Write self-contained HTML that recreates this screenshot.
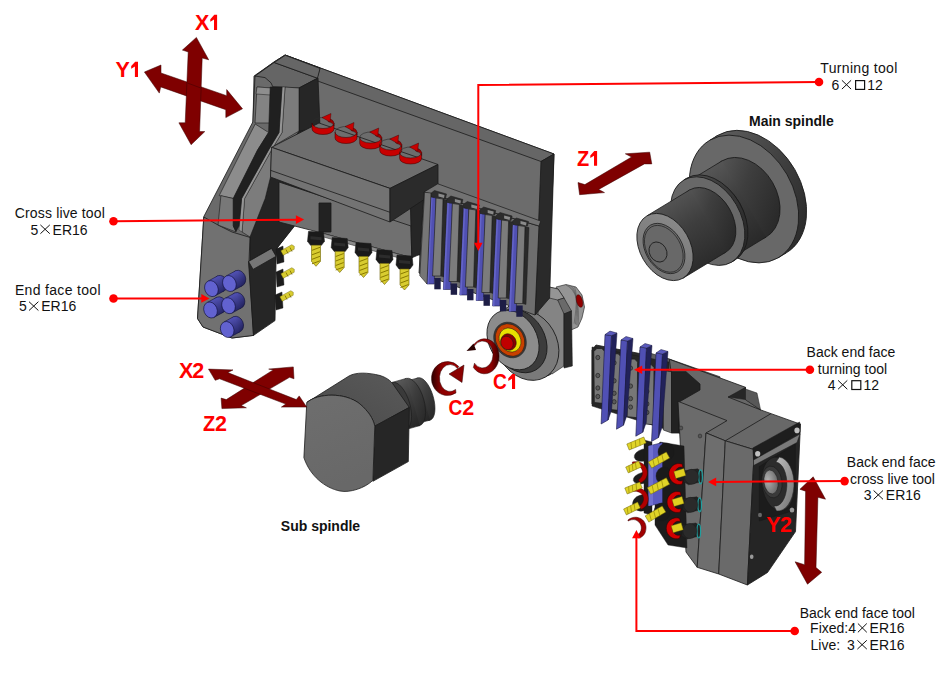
<!DOCTYPE html>
<html><head><meta charset="utf-8">
<style>
html,body{margin:0;padding:0;background:#fff;width:941px;height:685px;overflow:hidden}
svg{display:block}
text{font-family:"Liberation Sans",sans-serif}
.lb{font-size:14px;fill:#111}
.bd{font-size:14px;font-weight:bold;fill:#111}
.ax{font-size:21.5px;font-weight:bold;fill:#f00}
.ld{stroke:#f00;stroke-width:2;fill:none}
</style></head><body>
<svg width="941" height="685" viewBox="0 0 941 685">
<defs><linearGradient id="gb" x1="0.2" y1="0" x2="0.8" y2="1"><stop offset="0" stop-color="#5c5c5c"/><stop offset="0.45" stop-color="#3e3e3e"/><stop offset="1" stop-color="#262626"/></linearGradient><linearGradient id="gr" x1="0.4" y1="0" x2="0.9" y2="0.9"><stop offset="0" stop-color="#606060"/><stop offset="0.5" stop-color="#444"/><stop offset="1" stop-color="#2a2a2a"/></linearGradient><linearGradient id="gf" x1="0" y1="1" x2="1" y2="0"><stop offset="0" stop-color="#707070"/><stop offset="1" stop-color="#8c8c8c"/></linearGradient></defs>
<ellipse cx="751.9" cy="194.2" rx="49.5" ry="68.0" transform="rotate(-30 751.9 194.2)" fill="url(#gr)" stroke="#1a1a1a" stroke-width="0.8" />
<polygon points="778.0,257.9 785.9,253.1 717.9,135.3 710.0,140.1" fill="url(#gr)" stroke="none"/>
<line x1="778.0" y1="257.9" x2="785.9" y2="253.1" stroke="#1a1a1a" stroke-width="0.8"/>
<line x1="717.9" y1="135.3" x2="710.0" y2="140.1" stroke="#1a1a1a" stroke-width="0.8"/>
<ellipse cx="744.0" cy="199.0" rx="49.5" ry="68.0" transform="rotate(-30 744.0 199.0)" fill="#686868" stroke="#1a1a1a" stroke-width="0.8" />
<ellipse cx="744.0" cy="199.0" rx="33.0" ry="44.0" transform="rotate(-30 744.0 199.0)" fill="url(#gb)" stroke="#1a1a1a" stroke-width="0.8" />
<polygon points="732.8,257.3 766.0,237.1 722.0,160.9 688.8,181.1" fill="url(#gb)" stroke="none"/>
<line x1="732.8" y1="257.3" x2="766.0" y2="237.1" stroke="#1a1a1a" stroke-width="0.8"/>
<line x1="722.0" y1="160.9" x2="688.8" y2="181.1" stroke="#1a1a1a" stroke-width="0.8"/>
<ellipse cx="710.8" cy="219.2" rx="33.0" ry="44.0" transform="rotate(-30 710.8 219.2)" fill="#303030" stroke="#1a1a1a" stroke-width="0.8" />
<ellipse cx="710.8" cy="219.2" rx="33.0" ry="47.5" transform="rotate(-30 710.8 219.2)" fill="url(#gb)" stroke="#1a1a1a" stroke-width="0.8" />
<polygon points="731.4,262.2 734.6,260.3 687.1,178.0 683.9,179.9" fill="url(#gb)" stroke="none"/>
<line x1="731.4" y1="262.2" x2="734.6" y2="260.3" stroke="#1a1a1a" stroke-width="0.8"/>
<line x1="687.1" y1="178.0" x2="683.9" y2="179.9" stroke="#1a1a1a" stroke-width="0.8"/>
<ellipse cx="707.7" cy="221.1" rx="33.0" ry="47.5" transform="rotate(-30 707.7 221.1)" fill="#686868" stroke="#1a1a1a" stroke-width="0.8" />
<ellipse cx="707.7" cy="221.1" rx="25.0" ry="36.0" transform="rotate(-30 707.7 221.1)" fill="url(#gb)" stroke="#1a1a1a" stroke-width="0.8" />
<polygon points="683.0,278.2 725.7,252.3 689.7,189.9 647.0,215.8" fill="url(#gb)" stroke="none"/>
<line x1="683.0" y1="278.2" x2="725.7" y2="252.3" stroke="#1a1a1a" stroke-width="0.8"/>
<line x1="689.7" y1="189.9" x2="647.0" y2="215.8" stroke="#1a1a1a" stroke-width="0.8"/>
<ellipse cx="665.0" cy="247.0" rx="25.0" ry="36.0" transform="rotate(-30 665.0 247.0)" fill="url(#gf)" stroke="#1a1a1a" stroke-width="0.8" />
<ellipse cx="664.0" cy="248.5" rx="18.5" ry="27.0" transform="rotate(-30 664.0 248.5)" fill="#6a6a6a" stroke="#1a1a1a" stroke-width="0.7" />
<ellipse cx="663.8" cy="248.8" rx="17.0" ry="25.2" transform="rotate(-30 663.8 248.8)" fill="#686868" stroke="#1a1a1a" stroke-width="0.6" />
<ellipse cx="658.0" cy="252.0" rx="8.5" ry="10.5" transform="rotate(-30 658.0 252.0)" fill="#656565" stroke="#1a1a1a" stroke-width="0.8" />
<polygon points="556.0,287.0 566.0,284.5 576.0,287.0 582.0,295.0 584.5,307.0 582.0,318.0 578.0,327.0 571.0,330.0 566.0,320.0" fill="#959595" stroke="#1a1a1a" stroke-width="0.6" stroke-linejoin="round" />
<path d="M566.0,285.0 Q581.0,292.0 578.0,326.0" fill="none" stroke="#555" stroke-width="0.6"/>
<path d="M568.6,285.5 Q580.2,292.0 576.7,325.2" fill="none" stroke="#555" stroke-width="0.6"/>
<path d="M571.2,286.0 Q579.4,292.0 575.4,324.4" fill="none" stroke="#555" stroke-width="0.6"/>
<path d="M573.8,286.6 Q578.7,292.0 574.1,323.7" fill="none" stroke="#555" stroke-width="0.6"/>
<ellipse cx="579.5" cy="301.0" rx="3.0" ry="6.5" transform="rotate(-15 579.5 301.0)" fill="#900000" stroke="#300" stroke-width="0.4" />
<ellipse cx="530.0" cy="340.0" rx="32.0" ry="40.0" transform="rotate(-30 530.0 340.0)" fill="#7a7a7a" stroke="#1a1a1a" stroke-width="0.8" />
<polygon points="538.0,292.0 547.0,286.5 558.0,289.0 564.0,298.0 564.0,366.0 552.0,374.0 538.0,368.0" fill="#848484" stroke="#1a1a1a" stroke-width="0.6" stroke-linejoin="round" />
<polygon points="538.0,292.0 547.0,286.5 558.0,289.0 564.0,298.0 557.7,300.0 545.0,297.0" fill="#959595" stroke="#1a1a1a" stroke-width="0.6" stroke-linejoin="round" />
<polygon points="557.7,300.0 564.0,298.0 571.5,311.0 564.0,314.0" fill="#6a6a6a" stroke="#1a1a1a" stroke-width="0.6" stroke-linejoin="round" />
<polygon points="564.0,314.0 571.5,311.0 572.3,366.0 564.0,368.0" fill="#2a2a2a" stroke="#1a1a1a" stroke-width="0.6" stroke-linejoin="round" />
<ellipse cx="527.0" cy="345.0" rx="30.0" ry="37.0" transform="rotate(-30 527.0 345.0)" fill="#7a7a7a" stroke="#1a1a1a" stroke-width="0.8" />
<ellipse cx="519.0" cy="341.0" rx="26.0" ry="33.5" transform="rotate(-30 519.0 341.0)" fill="#3c3c3c" stroke="#1a1a1a" stroke-width="0.8" />
<ellipse cx="513.0" cy="340.0" rx="24.0" ry="31.5" transform="rotate(-30 513.0 340.0)" fill="#8c8c8c" stroke="#1a1a1a" stroke-width="0.8" />
<ellipse cx="510.0" cy="340.0" rx="15.5" ry="18.5" transform="rotate(-30 510.0 340.0)" fill="#3a3a3a" stroke="#1a1a1a" stroke-width="0.5" />
<ellipse cx="510.0" cy="340.0" rx="14.0" ry="17.0" transform="rotate(-30 510.0 340.0)" fill="#c84000" stroke="#1a1a1a" stroke-width="0.5" />
<ellipse cx="510.0" cy="340.0" rx="10.5" ry="12.5" transform="rotate(-30 510.0 340.0)" fill="#e8e000" stroke="#1a1a1a" stroke-width="0.5" />
<ellipse cx="508.5" cy="342.0" rx="7.5" ry="8.5" transform="rotate(-30 508.5 342.0)" fill="#8a0000" stroke="#1a1a1a" stroke-width="0.5" />
<ellipse cx="507.0" cy="343.0" rx="6.0" ry="7.0" transform="rotate(-30 507.0 343.0)" fill="#c00000" stroke="#1a1a1a" stroke-width="0.5" />
<polygon points="254.0,76.0 274.0,62.0 285.0,55.0 554.0,154.0 548.0,292.0 535.0,310.0 420.0,272.0 420.0,255.0 300.0,225.0 253.0,123.0" fill="#6c6c6c" stroke="#1a1a1a" stroke-width="0.8" stroke-linejoin="round" />
<polygon points="285.0,55.0 554.0,154.0 541.0,161.5 276.0,66.0" fill="#666666" stroke="#1a1a1a" stroke-width="0.8" stroke-linejoin="round" />
<polygon points="541.0,161.5 554.0,154.0 549.6,298.0 535.0,315.0" fill="#2a2a2a" stroke="#1a1a1a" stroke-width="0.8" stroke-linejoin="round" />
<polygon points="255.0,76.0 274.0,62.0 285.0,55.0 320.0,68.0 317.0,78.0 300.0,88.0 305.0,128.0 294.0,226.0 277.0,248.0 276.0,256.0 250.0,261.0 253.5,335.4 232.0,338.0 203.0,327.0 197.5,318.5 203.8,216.6 252.8,122.0" fill="#6a6a6a" stroke="#1a1a1a" stroke-width="0.8" stroke-linejoin="round" />
<polygon points="255.0,76.0 265.0,77.6 271.0,82.8 272.8,86.8 299.0,88.0 317.5,78.2 274.2,62.5" fill="#656565" stroke="#1a1a1a" stroke-width="0.8" stroke-linejoin="round" />
<polygon points="274.2,62.5 285.3,55.3 320.0,68.4 317.5,78.2" fill="#666666" stroke="#1a1a1a" stroke-width="0.8" stroke-linejoin="round" />
<polygon points="257.0,87.0 272.0,88.0 270.0,123.0 255.0,123.0" fill="#838383" stroke="#1a1a1a" stroke-width="0.6" stroke-linejoin="round" />
<polygon points="257.0,87.0 272.0,88.0 270.5,95.0 256.0,94.0" fill="#8e8e8e" stroke="#1a1a1a" stroke-width="0.5" stroke-linejoin="round" />
<polygon points="299.0,131.0 320.0,128.0 310.0,200.0 294.1,226.6 277.3,247.8 276.0,256.0 250.0,261.0 250.0,228.0 265.2,198.5 270.5,177.0" fill="#242424" stroke="#1a1a1a" stroke-width="0.8" stroke-linejoin="round" />
<polygon points="299.0,88.0 318.0,78.0 320.0,128.0 299.0,131.0" fill="#262626" stroke="#1a1a1a" stroke-width="0.8" stroke-linejoin="round" />
<polygon points="203.8,217.0 218.0,225.0 232.0,232.0 250.0,237.4 249.0,261.3 253.5,335.4 232.0,338.0 203.0,327.0 197.5,318.5" fill="#717171" stroke="#1a1a1a" stroke-width="0.8" stroke-linejoin="round" />
<polygon points="255.2,124.0 268.6,132.5 257.6,150.0 233.3,198.5 219.2,195.6 242.0,150.0" fill="#8c8c8c" stroke="#1a1a1a" stroke-width="0.6" stroke-linejoin="round" />
<polygon points="220.9,195.6 233.3,198.5 233.3,226.0 236.0,232.0 218.0,225.0" fill="#787878" stroke="#1a1a1a" stroke-width="0.6" stroke-linejoin="round" />
<polygon points="285.0,87.0 299.0,88.0 299.0,131.0 271.5,147.3 270.5,177.0 265.2,198.5 250.0,237.0 242.0,232.0 244.6,198.5 271.5,150.0 282.0,132.5" fill="#7c7c7c" stroke="#1a1a1a" stroke-width="0.6" stroke-linejoin="round" />
<polygon points="282.0,87.0 285.0,87.0 282.0,132.5 271.5,150.0 244.6,198.5 242.0,232.0 239.0,230.0 241.6,198.5 268.5,150.0 279.0,132.5" fill="#959595" stroke="#1a1a1a" stroke-width="0.4" stroke-linejoin="round" />
<polygon points="270.2,87.0 282.0,87.0 279.0,132.5 268.5,150.0 241.6,198.5 239.0,226.0 236.0,231.5 233.3,226.0 233.3,198.5 257.6,150.0 268.6,132.5" fill="#202020" stroke="#1a1a1a" stroke-width="0.6" stroke-linejoin="round" />
<polygon points="248.5,261.5 271.5,248.4 276.1,256.3 275.0,320.6 253.5,335.4" fill="#262626" stroke="#1a1a1a" stroke-width="0.8" stroke-linejoin="round" />
<polygon points="248.5,261.5 271.5,248.4 276.1,256.3 253.1,269.4" fill="#767676" stroke="#1a1a1a" stroke-width="0.8" stroke-linejoin="round" />
<polygon points="279.0,182.0 411.0,226.0 411.8,257.8 318.0,232.0 279.0,222.0" fill="#707070" stroke="#1a1a1a" stroke-width="0.8" stroke-linejoin="round" />
<polygon points="410.0,190.0 424.0,184.0 422.0,253.4 411.8,257.8" fill="#262626" stroke="#1a1a1a" stroke-width="0.8" stroke-linejoin="round" />
<polygon points="318.0,232.0 411.8,257.8 411.8,261.5 318.0,235.5" fill="#8c8c8c" stroke="#1a1a1a" stroke-width="0.5" stroke-linejoin="round" />
<polygon points="271.5,147.3 319.0,123.0 438.0,164.5 390.0,188.4" fill="#6e6e6e" stroke="#1a1a1a" stroke-width="0.8" stroke-linejoin="round" />
<polygon points="271.5,147.3 390.0,188.4 390.0,222.0 270.5,177.0" fill="#737373" stroke="#1a1a1a" stroke-width="0.8" stroke-linejoin="round" />
<line x1="270.5" y1="170.3" x2="390" y2="212.3" stroke="#1a1a1a" stroke-width="0.8"/>
<polygon points="390.0,188.4 438.0,164.5 438.0,190.3 390.0,222.0" fill="#2b2b2b" stroke="#1a1a1a" stroke-width="0.8" stroke-linejoin="round" />
<polygon points="319.0,203.0 331.0,203.0 331.0,232.0 319.0,232.0" fill="#222" stroke="#1a1a1a" stroke-width="0.8" stroke-linejoin="round" />
<path d="M312,123 A11,5.5 0 0 0 334,123 L334,129 A11,5.5 0 0 1 312,129 Z" fill="#c80000" stroke="#300" stroke-width="0.5"/>
<path d="M312,123 A11,5.5 0 0 1 325,117.6" fill="none" stroke="#2a2a2a" stroke-width="0.6"/>
<path d="M334,126 L334,123 A11,5.5 0 0 0 328,118.2 L328,121.5 A11,5.5 0 0 1 334,126 Z" fill="#a00000" stroke="#300" stroke-width="0.4"/>
<polygon points="331,113.5 322,117.5 330,122" fill="#c80000" stroke="#300" stroke-width="0.4"/>
<path d="M335,132 A11,5.5 0 0 0 357,132 L357,138 A11,5.5 0 0 1 335,138 Z" fill="#c80000" stroke="#300" stroke-width="0.5"/>
<path d="M335,132 A11,5.5 0 0 1 348,126.6" fill="none" stroke="#2a2a2a" stroke-width="0.6"/>
<path d="M357,135 L357,132 A11,5.5 0 0 0 351,127.2 L351,130.5 A11,5.5 0 0 1 357,135 Z" fill="#a00000" stroke="#300" stroke-width="0.4"/>
<polygon points="354,122.5 345,126.5 353,131" fill="#c80000" stroke="#300" stroke-width="0.4"/>
<path d="M359.7,137.5 A11,5.5 0 0 0 381.7,137.5 L381.7,143.5 A11,5.5 0 0 1 359.7,143.5 Z" fill="#c80000" stroke="#300" stroke-width="0.5"/>
<path d="M359.7,137.5 A11,5.5 0 0 1 372.7,132.1" fill="none" stroke="#2a2a2a" stroke-width="0.6"/>
<path d="M381.7,140.5 L381.7,137.5 A11,5.5 0 0 0 375.7,132.7 L375.7,136.0 A11,5.5 0 0 1 381.7,140.5 Z" fill="#a00000" stroke="#300" stroke-width="0.4"/>
<polygon points="378.7,128.0 369.7,132.0 377.7,136.5" fill="#c80000" stroke="#300" stroke-width="0.4"/>
<path d="M379.7,144.5 A11,5.5 0 0 0 401.7,144.5 L401.7,150.5 A11,5.5 0 0 1 379.7,150.5 Z" fill="#c80000" stroke="#300" stroke-width="0.5"/>
<path d="M379.7,144.5 A11,5.5 0 0 1 392.7,139.1" fill="none" stroke="#2a2a2a" stroke-width="0.6"/>
<path d="M401.7,147.5 L401.7,144.5 A11,5.5 0 0 0 395.7,139.7 L395.7,143.0 A11,5.5 0 0 1 401.7,147.5 Z" fill="#a00000" stroke="#300" stroke-width="0.4"/>
<polygon points="398.7,135.0 389.7,139.0 397.7,143.5" fill="#c80000" stroke="#300" stroke-width="0.4"/>
<path d="M399.6,152.5 A11,5.5 0 0 0 421.6,152.5 L421.6,158.5 A11,5.5 0 0 1 399.6,158.5 Z" fill="#c80000" stroke="#300" stroke-width="0.5"/>
<path d="M399.6,152.5 A11,5.5 0 0 1 412.6,147.1" fill="none" stroke="#2a2a2a" stroke-width="0.6"/>
<path d="M421.6,155.5 L421.6,152.5 A11,5.5 0 0 0 415.6,147.7 L415.6,151.0 A11,5.5 0 0 1 421.6,155.5 Z" fill="#a00000" stroke="#300" stroke-width="0.4"/>
<polygon points="418.6,143.0 409.6,147.0 417.6,151.5" fill="#c80000" stroke="#300" stroke-width="0.4"/>
<polygon points="308.5,231.3 323.5,232.3 324.5,241.3 321.5,245.3 310.5,245.3 307.5,241.3" fill="#1a1a1a" stroke="#1a1a1a" stroke-width="0.5" stroke-linejoin="round" />
<polygon points="310.5,236.3 321.5,237.3 321.5,240.3 310.5,239.3" fill="#2c2c2c" stroke="none" stroke-width="0.8" stroke-linejoin="round" />
<path d="M311.5,245.3 L320.5,245.3 L320.5,261.3 L316.0,266.3 L311.5,261.3 Z" fill="#d8cc30" stroke="#6b6000" stroke-width="0.6"/>
<line x1="312.0" y1="250.3" x2="320.0" y2="247.3" stroke="#8a7a00" stroke-width="1"/>
<line x1="312.0" y1="254.8" x2="320.0" y2="251.8" stroke="#8a7a00" stroke-width="1"/>
<line x1="312.0" y1="259.3" x2="320.0" y2="256.3" stroke="#8a7a00" stroke-width="1"/>
<line x1="312.0" y1="263.8" x2="320.0" y2="260.8" stroke="#8a7a00" stroke-width="1"/>
<polygon points="332.2,237.5 347.2,238.5 348.2,247.5 345.2,251.5 334.2,251.5 331.2,247.5" fill="#1a1a1a" stroke="#1a1a1a" stroke-width="0.5" stroke-linejoin="round" />
<polygon points="334.2,242.5 345.2,243.5 345.2,246.5 334.2,245.5" fill="#2c2c2c" stroke="none" stroke-width="0.8" stroke-linejoin="round" />
<path d="M335.2,251.5 L344.2,251.5 L344.2,267.5 L339.7,272.5 L335.2,267.5 Z" fill="#d8cc30" stroke="#6b6000" stroke-width="0.6"/>
<line x1="335.7" y1="256.5" x2="343.7" y2="253.5" stroke="#8a7a00" stroke-width="1"/>
<line x1="335.7" y1="261.0" x2="343.7" y2="258.0" stroke="#8a7a00" stroke-width="1"/>
<line x1="335.7" y1="265.5" x2="343.7" y2="262.5" stroke="#8a7a00" stroke-width="1"/>
<line x1="335.7" y1="270.0" x2="343.7" y2="267.0" stroke="#8a7a00" stroke-width="1"/>
<polygon points="356.0,242.5 371.0,243.5 372.0,252.5 369.0,256.5 358.0,256.5 355.0,252.5" fill="#1a1a1a" stroke="#1a1a1a" stroke-width="0.5" stroke-linejoin="round" />
<polygon points="358.0,247.5 369.0,248.5 369.0,251.5 358.0,250.5" fill="#2c2c2c" stroke="none" stroke-width="0.8" stroke-linejoin="round" />
<path d="M359,256.5 L368,256.5 L368,272.5 L363.5,277.5 L359,272.5 Z" fill="#d8cc30" stroke="#6b6000" stroke-width="0.6"/>
<line x1="359.5" y1="261.5" x2="367.5" y2="258.5" stroke="#8a7a00" stroke-width="1"/>
<line x1="359.5" y1="266.0" x2="367.5" y2="263.0" stroke="#8a7a00" stroke-width="1"/>
<line x1="359.5" y1="270.5" x2="367.5" y2="267.5" stroke="#8a7a00" stroke-width="1"/>
<line x1="359.5" y1="275.0" x2="367.5" y2="272.0" stroke="#8a7a00" stroke-width="1"/>
<polygon points="377.0,249.5 392.0,250.5 393.0,259.5 390.0,263.5 379.0,263.5 376.0,259.5" fill="#1a1a1a" stroke="#1a1a1a" stroke-width="0.5" stroke-linejoin="round" />
<polygon points="379.0,254.5 390.0,255.5 390.0,258.5 379.0,257.5" fill="#2c2c2c" stroke="none" stroke-width="0.8" stroke-linejoin="round" />
<path d="M380,263.5 L389,263.5 L389,279.5 L384.5,284.5 L380,279.5 Z" fill="#d8cc30" stroke="#6b6000" stroke-width="0.6"/>
<line x1="380.5" y1="268.5" x2="388.5" y2="265.5" stroke="#8a7a00" stroke-width="1"/>
<line x1="380.5" y1="273.0" x2="388.5" y2="270.0" stroke="#8a7a00" stroke-width="1"/>
<line x1="380.5" y1="277.5" x2="388.5" y2="274.5" stroke="#8a7a00" stroke-width="1"/>
<line x1="380.5" y1="282.0" x2="388.5" y2="279.0" stroke="#8a7a00" stroke-width="1"/>
<polygon points="397.0,255.0 412.0,256.0 413.0,265.0 410.0,269.0 399.0,269.0 396.0,265.0" fill="#1a1a1a" stroke="#1a1a1a" stroke-width="0.5" stroke-linejoin="round" />
<polygon points="399.0,260.0 410.0,261.0 410.0,264.0 399.0,263.0" fill="#2c2c2c" stroke="none" stroke-width="0.8" stroke-linejoin="round" />
<path d="M400,269 L409,269 L409,285 L404.5,290 L400,285 Z" fill="#d8cc30" stroke="#6b6000" stroke-width="0.6"/>
<line x1="400.5" y1="274.0" x2="408.5" y2="271.0" stroke="#8a7a00" stroke-width="1"/>
<line x1="400.5" y1="278.5" x2="408.5" y2="275.5" stroke="#8a7a00" stroke-width="1"/>
<line x1="400.5" y1="283.0" x2="408.5" y2="280.0" stroke="#8a7a00" stroke-width="1"/>
<line x1="400.5" y1="287.5" x2="408.5" y2="284.5" stroke="#8a7a00" stroke-width="1"/>
<polygon points="424.0,192.0 539.0,226.0 535.0,315.0 419.0,273.0" fill="#6e6e6e" stroke="#1a1a1a" stroke-width="0.8" stroke-linejoin="round" />
<polygon points="424.0,192.0 437.8,183.8 540.7,221.1 539.0,226.0" fill="#727272" stroke="#1a1a1a" stroke-width="0.7" stroke-linejoin="round" />
<polygon points="443.0,199.0 447.0,200.0 444.0,277.0 440.5,276.0" fill="#2a2a2a" stroke="#1a1a1a" stroke-width="0.4" stroke-linejoin="round" />
<polygon points="431.0,197.0 436.0,198.0 434.3,284.0 427.0,284.0" fill="#5050b2" stroke="#20204a" stroke-width="0.6" stroke-linejoin="round" />
<polygon points="431.0,197.0 432.5,197.5 428.8,284.0 427.0,284.0" fill="#6464c8" stroke="none" stroke-width="0" stroke-linejoin="round" />
<polygon points="436.0,198.0 443.0,199.0 440.7,276.0 432.6,276.0" fill="#7c7c7c" stroke="#1a1a1a" stroke-width="0.6" stroke-linejoin="round" />
<polygon points="430.5,193.5 434.5,190.5 446.5,194.0 445.5,198.5 431.0,197.0" fill="#2c2c2c" stroke="#1a1a1a" stroke-width="0.5" stroke-linejoin="round" />
<polygon points="438.5,193.5 444.5,195.0 444.0,198.0 438.5,196.5" fill="#8a8a8a" stroke="none" stroke-width="0.8" stroke-linejoin="round" />
<polygon points="434.3,278.0 440.7,278.0 440.7,289.3 434.3,289.3" fill="#1d1d45" stroke="none" stroke-width="0.8" stroke-linejoin="round" />
<polygon points="459.4,204.5 463.4,205.5 460.4,282.5 456.9,281.5" fill="#2a2a2a" stroke="#1a1a1a" stroke-width="0.4" stroke-linejoin="round" />
<polygon points="447.4,202.5 452.4,203.5 450.7,289.5 443.4,289.5" fill="#5050b2" stroke="#20204a" stroke-width="0.6" stroke-linejoin="round" />
<polygon points="447.4,202.5 448.9,203.0 445.2,289.5 443.4,289.5" fill="#6464c8" stroke="none" stroke-width="0" stroke-linejoin="round" />
<polygon points="452.4,203.5 459.4,204.5 457.1,281.5 449.0,281.5" fill="#7c7c7c" stroke="#1a1a1a" stroke-width="0.6" stroke-linejoin="round" />
<polygon points="446.9,199.0 450.9,196.0 462.9,199.5 461.9,204.0 447.4,202.5" fill="#2c2c2c" stroke="#1a1a1a" stroke-width="0.5" stroke-linejoin="round" />
<polygon points="454.9,199.0 460.9,200.5 460.4,203.5 454.9,202.0" fill="#8a8a8a" stroke="none" stroke-width="0.8" stroke-linejoin="round" />
<polygon points="450.7,283.5 457.1,283.5 457.1,294.8 450.7,294.8" fill="#1d1d45" stroke="none" stroke-width="0.8" stroke-linejoin="round" />
<polygon points="475.8,210.0 479.8,211.0 476.8,288.0 473.3,287.0" fill="#2a2a2a" stroke="#1a1a1a" stroke-width="0.4" stroke-linejoin="round" />
<polygon points="463.8,208.0 468.8,209.0 467.1,295.0 459.8,295.0" fill="#5050b2" stroke="#20204a" stroke-width="0.6" stroke-linejoin="round" />
<polygon points="463.8,208.0 465.3,208.5 461.6,295.0 459.8,295.0" fill="#6464c8" stroke="none" stroke-width="0" stroke-linejoin="round" />
<polygon points="468.8,209.0 475.8,210.0 473.5,287.0 465.4,287.0" fill="#7c7c7c" stroke="#1a1a1a" stroke-width="0.6" stroke-linejoin="round" />
<polygon points="463.3,204.5 467.3,201.5 479.3,205.0 478.3,209.5 463.8,208.0" fill="#2c2c2c" stroke="#1a1a1a" stroke-width="0.5" stroke-linejoin="round" />
<polygon points="471.3,204.5 477.3,206.0 476.8,209.0 471.3,207.5" fill="#8a8a8a" stroke="none" stroke-width="0.8" stroke-linejoin="round" />
<polygon points="467.1,289.0 473.5,289.0 473.5,300.3 467.1,300.3" fill="#1d1d45" stroke="none" stroke-width="0.8" stroke-linejoin="round" />
<polygon points="492.2,215.5 496.2,216.5 493.2,293.5 489.7,292.5" fill="#2a2a2a" stroke="#1a1a1a" stroke-width="0.4" stroke-linejoin="round" />
<polygon points="480.2,213.5 485.2,214.5 483.5,300.5 476.2,300.5" fill="#5050b2" stroke="#20204a" stroke-width="0.6" stroke-linejoin="round" />
<polygon points="480.2,213.5 481.7,214.0 478.0,300.5 476.2,300.5" fill="#6464c8" stroke="none" stroke-width="0" stroke-linejoin="round" />
<polygon points="485.2,214.5 492.2,215.5 489.9,292.5 481.8,292.5" fill="#7c7c7c" stroke="#1a1a1a" stroke-width="0.6" stroke-linejoin="round" />
<polygon points="479.7,210.0 483.7,207.0 495.7,210.5 494.7,215.0 480.2,213.5" fill="#2c2c2c" stroke="#1a1a1a" stroke-width="0.5" stroke-linejoin="round" />
<polygon points="487.7,210.0 493.7,211.5 493.2,214.5 487.7,213.0" fill="#8a8a8a" stroke="none" stroke-width="0.8" stroke-linejoin="round" />
<polygon points="483.5,294.5 489.9,294.5 489.9,305.8 483.5,305.8" fill="#1d1d45" stroke="none" stroke-width="0.8" stroke-linejoin="round" />
<polygon points="508.6,221.0 512.6,222.0 509.6,299.0 506.1,298.0" fill="#2a2a2a" stroke="#1a1a1a" stroke-width="0.4" stroke-linejoin="round" />
<polygon points="496.6,219.0 501.6,220.0 499.9,306.0 492.6,306.0" fill="#5050b2" stroke="#20204a" stroke-width="0.6" stroke-linejoin="round" />
<polygon points="496.6,219.0 498.1,219.5 494.4,306.0 492.6,306.0" fill="#6464c8" stroke="none" stroke-width="0" stroke-linejoin="round" />
<polygon points="501.6,220.0 508.6,221.0 506.3,298.0 498.2,298.0" fill="#7c7c7c" stroke="#1a1a1a" stroke-width="0.6" stroke-linejoin="round" />
<polygon points="496.1,215.5 500.1,212.5 512.1,216.0 511.1,220.5 496.6,219.0" fill="#2c2c2c" stroke="#1a1a1a" stroke-width="0.5" stroke-linejoin="round" />
<polygon points="504.1,215.5 510.1,217.0 509.6,220.0 504.1,218.5" fill="#8a8a8a" stroke="none" stroke-width="0.8" stroke-linejoin="round" />
<polygon points="499.9,300.0 506.3,300.0 506.3,311.3 499.9,311.3" fill="#1d1d45" stroke="none" stroke-width="0.8" stroke-linejoin="round" />
<polygon points="525.0,226.5 529.0,227.5 526.0,304.5 522.5,303.5" fill="#2a2a2a" stroke="#1a1a1a" stroke-width="0.4" stroke-linejoin="round" />
<polygon points="513.0,224.5 518.0,225.5 516.3,311.5 509.0,311.5" fill="#5050b2" stroke="#20204a" stroke-width="0.6" stroke-linejoin="round" />
<polygon points="513.0,224.5 514.5,225.0 510.8,311.5 509.0,311.5" fill="#6464c8" stroke="none" stroke-width="0" stroke-linejoin="round" />
<polygon points="518.0,225.5 525.0,226.5 522.7,303.5 514.6,303.5" fill="#7c7c7c" stroke="#1a1a1a" stroke-width="0.6" stroke-linejoin="round" />
<polygon points="512.5,221.0 516.5,218.0 528.5,221.5 527.5,226.0 513.0,224.5" fill="#2c2c2c" stroke="#1a1a1a" stroke-width="0.5" stroke-linejoin="round" />
<polygon points="520.5,221.0 526.5,222.5 526.0,225.5 520.5,224.0" fill="#8a8a8a" stroke="none" stroke-width="0.8" stroke-linejoin="round" />
<polygon points="516.3,305.5 522.7,305.5 522.7,316.8 516.3,316.8" fill="#1d1d45" stroke="none" stroke-width="0.8" stroke-linejoin="round" />
<polygon points="424.6,192.2 431.0,193.0 427.0,284.0 419.8,275.6" fill="#767676" stroke="#1a1a1a" stroke-width="0.6" stroke-linejoin="round" />
<defs><linearGradient id="gt" x1="0" y1="1" x2="1" y2="0"><stop offset="0" stop-color="#4a4a4a"/><stop offset="1" stop-color="#5a5a5a"/></linearGradient></defs>
<ellipse cx="424.0" cy="399.0" rx="9.5" ry="22.0" transform="rotate(-16 424.0 399.0)" fill="url(#gb)" stroke="#1a1a1a" stroke-width="0.6" />
<polygon points="419.1,423.1 430.1,420.1 417.9,377.9 406.9,380.9" fill="url(#gb)" stroke="none"/>
<line x1="419.1" y1="423.1" x2="430.1" y2="420.1" stroke="#1a1a1a" stroke-width="0.6"/>
<line x1="417.9" y1="377.9" x2="406.9" y2="380.9" stroke="#1a1a1a" stroke-width="0.6"/>
<ellipse cx="413.0" cy="402.0" rx="9.5" ry="22.0" transform="rotate(-16 413.0 402.0)" fill="#444" stroke="#1a1a1a" stroke-width="0.6" />
<ellipse cx="413.0" cy="402.0" rx="11.0" ry="24.5" transform="rotate(-16 413.0 402.0)" fill="url(#gb)" stroke="#1a1a1a" stroke-width="0.6" />
<polygon points="405.8,429.6 419.8,425.6 406.2,378.4 392.2,382.4" fill="url(#gb)" stroke="none"/>
<line x1="405.8" y1="429.6" x2="419.8" y2="425.6" stroke="#1a1a1a" stroke-width="0.6"/>
<line x1="406.2" y1="378.4" x2="392.2" y2="382.4" stroke="#1a1a1a" stroke-width="0.6"/>
<ellipse cx="399.0" cy="406.0" rx="11.0" ry="24.5" transform="rotate(-16 399.0 406.0)" fill="#3a3a3a" stroke="#1a1a1a" stroke-width="0.6" />
<path d="M306.8,402.5 L349,376 C356,372 368,372.5 380,375.5 C388,378 392,382 395,387 L409.3,407.4 L374.8,426.1 C373,418 368,411 360,404 C345,392 318,393 306.8,402.5 Z" fill="url(#gt)" stroke="#1a1a1a" stroke-width="0.8" stroke-linejoin="round"/>
<polygon points="374.8,426.1 409.3,407.4 408.3,461.6 372.9,481.3" fill="#262626" stroke="#1a1a1a" stroke-width="0.8" stroke-linejoin="round" />
<defs><linearGradient id="gs" x1="0" y1="0" x2="0.3" y2="1"><stop offset="0" stop-color="#6e6e6e"/><stop offset="1" stop-color="#686868"/></linearGradient></defs>
<path d="M306.8,402.5 C318,393 345,392 360,404 C368,411 373,418 374.8,426.1 L372.9,480.3 C365,488 350,493 340,491 C325,488 310,476 303.9,457.6 Z" fill="url(#gs)" stroke="#1a1a1a" stroke-width="0.8" stroke-linejoin="round"/>
<defs><linearGradient id="gbl" x1="0.3" y1="0" x2="0.7" y2="1"><stop offset="0" stop-color="#5858c0"/><stop offset="1" stop-color="#20205a"/></linearGradient></defs>
<ellipse cx="220.9" cy="283.4" rx="6.6" ry="8.2" transform="rotate(-22 220.9 283.4)" fill="url(#gbl)" stroke="#10103a" stroke-width="0.6" />
<polygon points="214.5,296.2 224.0,291.0 217.8,275.8 208.3,281.0" fill="url(#gbl)" stroke="none"/>
<line x1="214.5" y1="296.2" x2="224.0" y2="291.0" stroke="#10103a" stroke-width="0.6"/>
<line x1="217.8" y1="275.8" x2="208.3" y2="281.0" stroke="#10103a" stroke-width="0.6"/>
<ellipse cx="211.4" cy="288.6" rx="6.6" ry="8.2" transform="rotate(-22 211.4 288.6)" fill="#6262d0" stroke="#10103a" stroke-width="0.6" />
<ellipse cx="220.0" cy="304.8" rx="6.6" ry="8.2" transform="rotate(-22 220.0 304.8)" fill="url(#gbl)" stroke="#10103a" stroke-width="0.6" />
<polygon points="213.6,317.6 223.1,312.4 216.9,297.2 207.4,302.4" fill="url(#gbl)" stroke="none"/>
<line x1="213.6" y1="317.6" x2="223.1" y2="312.4" stroke="#10103a" stroke-width="0.6"/>
<line x1="216.9" y1="297.2" x2="207.4" y2="302.4" stroke="#10103a" stroke-width="0.6"/>
<ellipse cx="210.5" cy="310.0" rx="6.6" ry="8.2" transform="rotate(-22 210.5 310.0)" fill="#6262d0" stroke="#10103a" stroke-width="0.6" />
<ellipse cx="238.9" cy="278.3" rx="6.6" ry="8.2" transform="rotate(-22 238.9 278.3)" fill="url(#gbl)" stroke="#10103a" stroke-width="0.6" />
<polygon points="232.5,291.1 242.0,285.9 235.8,270.7 226.3,275.9" fill="url(#gbl)" stroke="none"/>
<line x1="232.5" y1="291.1" x2="242.0" y2="285.9" stroke="#10103a" stroke-width="0.6"/>
<line x1="235.8" y1="270.7" x2="226.3" y2="275.9" stroke="#10103a" stroke-width="0.6"/>
<ellipse cx="229.4" cy="283.5" rx="6.6" ry="8.2" transform="rotate(-22 229.4 283.5)" fill="#6262d0" stroke="#10103a" stroke-width="0.6" />
<ellipse cx="238.0" cy="300.5" rx="6.6" ry="8.2" transform="rotate(-22 238.0 300.5)" fill="url(#gbl)" stroke="#10103a" stroke-width="0.6" />
<polygon points="231.6,313.3 241.1,308.1 234.9,292.9 225.4,298.1" fill="url(#gbl)" stroke="none"/>
<line x1="231.6" y1="313.3" x2="241.1" y2="308.1" stroke="#10103a" stroke-width="0.6"/>
<line x1="234.9" y1="292.9" x2="225.4" y2="298.1" stroke="#10103a" stroke-width="0.6"/>
<ellipse cx="228.5" cy="305.7" rx="6.6" ry="8.2" transform="rotate(-22 228.5 305.7)" fill="#6262d0" stroke="#10103a" stroke-width="0.6" />
<ellipse cx="236.7" cy="324.3" rx="6.6" ry="8.2" transform="rotate(-22 236.7 324.3)" fill="url(#gbl)" stroke="#10103a" stroke-width="0.6" />
<polygon points="230.3,337.1 239.8,331.9 233.6,316.7 224.1,321.9" fill="url(#gbl)" stroke="none"/>
<line x1="230.3" y1="337.1" x2="239.8" y2="331.9" stroke="#10103a" stroke-width="0.6"/>
<line x1="233.6" y1="316.7" x2="224.1" y2="321.9" stroke="#10103a" stroke-width="0.6"/>
<ellipse cx="227.2" cy="329.5" rx="6.6" ry="8.2" transform="rotate(-22 227.2 329.5)" fill="#6262d0" stroke="#10103a" stroke-width="0.6" />
<polygon points="276.0,249.0 283.0,246.0 284.0,262.0 277.0,264.0" fill="#1c1c1c" stroke="#1a1a1a" stroke-width="0.4" stroke-linejoin="round" />
<polygon points="283.2,255.3 294.2,249.3 294.3,246.3 291.8,244.7 280.8,250.7" fill="#d8cc30" stroke="#605800" stroke-width="0.4" stroke-linejoin="round" />
<line x1="286.0" y1="249.5" x2="288.0" y2="253.5" stroke="#7a6a00" stroke-width="0.8"/>
<line x1="290.0" y1="247.5" x2="292.0" y2="251.5" stroke="#7a6a00" stroke-width="0.8"/>
<polygon points="276.0,272.0 283.0,269.0 284.0,285.0 277.0,287.0" fill="#1c1c1c" stroke="#1a1a1a" stroke-width="0.4" stroke-linejoin="round" />
<polygon points="283.2,278.3 294.2,272.3 294.3,269.3 291.8,267.7 280.8,273.7" fill="#d8cc30" stroke="#605800" stroke-width="0.4" stroke-linejoin="round" />
<line x1="286.0" y1="272.5" x2="288.0" y2="276.5" stroke="#7a6a00" stroke-width="0.8"/>
<line x1="290.0" y1="270.5" x2="292.0" y2="274.5" stroke="#7a6a00" stroke-width="0.8"/>
<polygon points="275.0,295.0 282.0,292.0 283.0,308.0 276.0,310.0" fill="#1c1c1c" stroke="#1a1a1a" stroke-width="0.4" stroke-linejoin="round" />
<polygon points="282.2,301.3 293.2,295.3 293.3,292.3 290.8,290.7 279.8,296.7" fill="#d8cc30" stroke="#605800" stroke-width="0.4" stroke-linejoin="round" />
<line x1="285.0" y1="295.5" x2="287.0" y2="299.5" stroke="#7a6a00" stroke-width="0.8"/>
<line x1="289.0" y1="293.5" x2="291.0" y2="297.5" stroke="#7a6a00" stroke-width="0.8"/>
<polygon points="596.0,345.0 669.3,359.3 700.0,372.0 700.0,440.0 592.0,404.0 592.0,350.0" fill="#2a2a2a" stroke="#1a1a1a" stroke-width="0.8" stroke-linejoin="round" />
<polygon points="640.0,350.0 669.3,359.0 720.0,376.8 720.0,390.0 669.3,371.7 640.0,362.0" fill="#5e5e5e" stroke="#1a1a1a" stroke-width="0.6" stroke-linejoin="round" />
<polygon points="592.0,347.0 669.0,362.0 668.0,430.0 592.0,406.0" fill="#262626" stroke="#1a1a1a" stroke-width="0.5" stroke-linejoin="round" />
<polygon points="593.8,351.5 596.8,348.5 601.8,348.5 604.8,351.5 604.3,403.5 594.3,402.5" fill="#777777" stroke="#1a1a1a" stroke-width="0.7" stroke-linejoin="round" />
<ellipse cx="597.8" cy="357.5" rx="2.0" ry="2.2" transform="rotate(0 597.8 357.5)" fill="#5a5a5a" stroke="#1a1a1a" stroke-width="0.6" />
<ellipse cx="597.8" cy="375.5" rx="2.0" ry="2.2" transform="rotate(0 597.8 375.5)" fill="#5a5a5a" stroke="#1a1a1a" stroke-width="0.6" />
<ellipse cx="597.8" cy="388.0" rx="2.0" ry="2.2" transform="rotate(0 597.8 388.0)" fill="#5a5a5a" stroke="#1a1a1a" stroke-width="0.6" />
<ellipse cx="597.8" cy="396.5" rx="2.0" ry="2.2" transform="rotate(0 597.8 396.5)" fill="#5a5a5a" stroke="#1a1a1a" stroke-width="0.6" />
<polygon points="610.2,356.8 613.2,353.8 618.2,353.8 621.2,356.8 620.7,410.6 610.7,409.6" fill="#777777" stroke="#1a1a1a" stroke-width="0.7" stroke-linejoin="round" />
<ellipse cx="614.2" cy="362.8" rx="2.0" ry="2.2" transform="rotate(0 614.2 362.8)" fill="#5a5a5a" stroke="#1a1a1a" stroke-width="0.6" />
<ellipse cx="614.2" cy="380.8" rx="2.0" ry="2.2" transform="rotate(0 614.2 380.8)" fill="#5a5a5a" stroke="#1a1a1a" stroke-width="0.6" />
<ellipse cx="614.2" cy="393.3" rx="2.0" ry="2.2" transform="rotate(0 614.2 393.3)" fill="#5a5a5a" stroke="#1a1a1a" stroke-width="0.6" />
<ellipse cx="614.2" cy="401.8" rx="2.0" ry="2.2" transform="rotate(0 614.2 401.8)" fill="#5a5a5a" stroke="#1a1a1a" stroke-width="0.6" />
<polygon points="626.6,362.1 629.6,359.1 634.6,359.1 637.6,362.1 637.1,417.7 627.1,416.7" fill="#777777" stroke="#1a1a1a" stroke-width="0.7" stroke-linejoin="round" />
<ellipse cx="630.6" cy="368.1" rx="2.0" ry="2.2" transform="rotate(0 630.6 368.1)" fill="#5a5a5a" stroke="#1a1a1a" stroke-width="0.6" />
<ellipse cx="630.6" cy="386.1" rx="2.0" ry="2.2" transform="rotate(0 630.6 386.1)" fill="#5a5a5a" stroke="#1a1a1a" stroke-width="0.6" />
<ellipse cx="630.6" cy="398.6" rx="2.0" ry="2.2" transform="rotate(0 630.6 398.6)" fill="#5a5a5a" stroke="#1a1a1a" stroke-width="0.6" />
<ellipse cx="630.6" cy="407.1" rx="2.0" ry="2.2" transform="rotate(0 630.6 407.1)" fill="#5a5a5a" stroke="#1a1a1a" stroke-width="0.6" />
<polygon points="643.0,367.4 646.0,364.4 651.0,364.4 654.0,367.4 653.5,424.8 643.5,423.8" fill="#777777" stroke="#1a1a1a" stroke-width="0.7" stroke-linejoin="round" />
<ellipse cx="647.0" cy="373.4" rx="2.0" ry="2.2" transform="rotate(0 647.0 373.4)" fill="#5a5a5a" stroke="#1a1a1a" stroke-width="0.6" />
<ellipse cx="647.0" cy="391.4" rx="2.0" ry="2.2" transform="rotate(0 647.0 391.4)" fill="#5a5a5a" stroke="#1a1a1a" stroke-width="0.6" />
<ellipse cx="647.0" cy="403.9" rx="2.0" ry="2.2" transform="rotate(0 647.0 403.9)" fill="#5a5a5a" stroke="#1a1a1a" stroke-width="0.6" />
<ellipse cx="647.0" cy="412.4" rx="2.0" ry="2.2" transform="rotate(0 647.0 412.4)" fill="#5a5a5a" stroke="#1a1a1a" stroke-width="0.6" />
<polygon points="669.3,359.3 745.5,387.3 745.5,399.6 760.6,409.9 800.5,424.2 754.3,449.7 725.3,440.8 706.0,432.9 678.0,401.3 671.0,371.0" fill="#686868" stroke="#1a1a1a" stroke-width="0.8" stroke-linejoin="round" />
<polygon points="728.0,397.0 745.5,387.3 745.5,399.6" fill="#262626" stroke="#1a1a1a" stroke-width="0.5" stroke-linejoin="round" />
<polygon points="745.5,389.0 757.0,393.0 760.6,409.9 745.5,399.6" fill="#585858" stroke="#1a1a1a" stroke-width="0.5" stroke-linejoin="round" />
<line x1="728" y1="397" x2="760.6" y2="409.9" stroke="#1a1a1a" stroke-width="0.8"/>
<line x1="725.3" y1="440.8" x2="771" y2="413.6" stroke="#1a1a1a" stroke-width="0.8"/>
<polygon points="663.3,370.5 671.5,371.7 671.5,433.0 663.3,430.0" fill="#727272" stroke="#1a1a1a" stroke-width="0.6" stroke-linejoin="round" />
<polygon points="671.5,371.7 686.0,371.7 700.0,384.0 700.0,390.0 678.6,402.3 678.6,433.0 671.5,433.0" fill="#222" stroke="#1a1a1a" stroke-width="0.8" stroke-linejoin="round" />
<polygon points="678.0,401.3 727.0,420.6 706.0,433.0 697.2,567.3 686.0,552.0" fill="#6b6b6b" stroke="#1a1a1a" stroke-width="0.8" stroke-linejoin="round" />
<polygon points="706.0,432.9 725.3,440.8 718.7,574.0 697.2,567.3" fill="#6e6e6e" stroke="#1a1a1a" stroke-width="0.8" stroke-linejoin="round" />
<polygon points="725.3,440.8 754.3,449.7 747.4,585.0 718.7,574.0" fill="#6a6a6a" stroke="#1a1a1a" stroke-width="0.8" stroke-linejoin="round" />
<ellipse cx="681.0" cy="428.0" rx="1.8" ry="2.0" transform="rotate(0 681.0 428.0)" fill="#555" stroke="#222" stroke-width="0.5" />
<ellipse cx="700.0" cy="436.0" rx="1.8" ry="2.0" transform="rotate(0 700.0 436.0)" fill="#555" stroke="#222" stroke-width="0.5" />
<ellipse cx="681.0" cy="470.0" rx="1.8" ry="2.0" transform="rotate(0 681.0 470.0)" fill="#555" stroke="#222" stroke-width="0.5" />
<ellipse cx="700.0" cy="478.0" rx="1.8" ry="2.0" transform="rotate(0 700.0 478.0)" fill="#555" stroke="#222" stroke-width="0.5" />
<polygon points="754.3,449.7 800.5,424.2 795.5,531.6 767.5,572.5 747.4,585.0" fill="#252525" stroke="#1a1a1a" stroke-width="0.8" stroke-linejoin="round" />
<polygon points="752.8,448.0 799.6,422.0 800.0,432.0 753.5,460.0" fill="#1e1e1e" stroke="#1a1a1a" stroke-width="0.5" stroke-linejoin="round" />
<polygon points="753.5,460.0 800.0,434.0 797.0,442.5 753.6,465.5" fill="#7a7a7a" stroke="#1a1a1a" stroke-width="0.5" stroke-linejoin="round" />
<polygon points="759.3,466.6 795.4,444.0 795.4,510.0 759.3,521.0" fill="#1c1c1c" stroke="#1a1a1a" stroke-width="0.6" stroke-linejoin="round" />
<defs><linearGradient id="gring" x1="0" y1="0" x2="1" y2="1"><stop offset="0" stop-color="#c0c0c0"/><stop offset="1" stop-color="#707070"/></linearGradient></defs>
<ellipse cx="778.0" cy="484.0" rx="16.0" ry="27.0" transform="rotate(-8 778.0 484.0)" fill="#2c2c2c" stroke="#1a1a1a" stroke-width="0.6" />
<path d="M779.4,457.1 A16,27 0 1 1 776.6,510.9 L774.0,505.9 A11.5,22 0 1 0 776.0,462.1 Z" fill="url(#gring)" stroke="#222" stroke-width="0.5"/>
<ellipse cx="772.0" cy="482.0" rx="10.0" ry="16.0" transform="rotate(-8 772.0 482.0)" fill="#3a3a3a" stroke="#1a1a1a" stroke-width="0.6" />
<defs><radialGradient id="gdisc" cx="0.3" cy="0.4" r="0.8"><stop offset="0" stop-color="#b0b0b0"/><stop offset="1" stop-color="#606060"/></radialGradient></defs>
<ellipse cx="771.0" cy="482.0" rx="7.0" ry="12.0" transform="rotate(-8 771.0 482.0)" fill="url(#gdisc)" stroke="#1a1a1a" stroke-width="0.5" />
<ellipse cx="757.7" cy="453.7" rx="2.6" ry="2.8" transform="rotate(0 757.7 453.7)" fill="#c0c0c0" stroke="none" stroke-width="0.8" />
<ellipse cx="797.0" cy="430.4" rx="2.6" ry="2.8" transform="rotate(0 797.0 430.4)" fill="#c0c0c0" stroke="none" stroke-width="0.8" />
<ellipse cx="792.0" cy="510.0" rx="2.3" ry="2.5" transform="rotate(0 792.0 510.0)" fill="#999" stroke="none" stroke-width="0.8" />
<ellipse cx="760.0" cy="515.0" rx="2.0" ry="2.2" transform="rotate(0 760.0 515.0)" fill="#666" stroke="none" stroke-width="0.8" />
<ellipse cx="751.7" cy="556.7" rx="1.8" ry="2.3" transform="rotate(0 751.7 556.7)" fill="#999" stroke="none" stroke-width="0.8" />
<polygon points="605.0,334.6 611.5,335.6 608.1,420.0 601.1,424.0" fill="#5050b4" stroke="#1a1a40" stroke-width="0.6" stroke-linejoin="round" />
<polygon points="611.5,335.6 617.0,333.1 611.6,410.0 608.1,420.0" fill="#22225a" stroke="#1a1a40" stroke-width="0.5" stroke-linejoin="round" />
<polygon points="605.0,334.6 610.0,331.1 617.0,333.1 611.5,335.6" fill="#5a5abc" stroke="#1a1a40" stroke-width="0.5" stroke-linejoin="round" />
<polygon points="621.0,340.0 627.5,341.0 623.5,425.2 616.5,429.2" fill="#5050b4" stroke="#1a1a40" stroke-width="0.6" stroke-linejoin="round" />
<polygon points="627.5,341.0 633.0,338.5 627.0,415.2 623.5,425.2" fill="#22225a" stroke="#1a1a40" stroke-width="0.5" stroke-linejoin="round" />
<polygon points="621.0,340.0 626.0,336.5 633.0,338.5 627.5,341.0" fill="#5a5abc" stroke="#1a1a40" stroke-width="0.5" stroke-linejoin="round" />
<polygon points="640.0,347.0 646.5,348.0 642.8,432.2 635.8,436.2" fill="#5050b4" stroke="#1a1a40" stroke-width="0.6" stroke-linejoin="round" />
<polygon points="646.5,348.0 652.0,345.5 646.3,422.2 642.8,432.2" fill="#22225a" stroke="#1a1a40" stroke-width="0.5" stroke-linejoin="round" />
<polygon points="640.0,347.0 645.0,343.5 652.0,345.5 646.5,348.0" fill="#5a5abc" stroke="#1a1a40" stroke-width="0.5" stroke-linejoin="round" />
<polygon points="656.0,353.0 662.5,354.0 658.5,437.5 651.5,441.5" fill="#5050b4" stroke="#1a1a40" stroke-width="0.6" stroke-linejoin="round" />
<polygon points="662.5,354.0 668.0,351.5 662.0,427.5 658.5,437.5" fill="#22225a" stroke="#1a1a40" stroke-width="0.5" stroke-linejoin="round" />
<polygon points="656.0,353.0 661.0,349.5 668.0,351.5 662.5,354.0" fill="#5a5abc" stroke="#1a1a40" stroke-width="0.5" stroke-linejoin="round" />
<ellipse cx="644.0" cy="455.0" rx="10.0" ry="6.0" transform="rotate(-15 644.0 455.0)" fill="#1c1c1c" stroke="#1a1a1a" stroke-width="0.4" />
<ellipse cx="643.0" cy="478.0" rx="10.0" ry="5.5" transform="rotate(-15 643.0 478.0)" fill="#1c1c1c" stroke="#1a1a1a" stroke-width="0.4" />
<ellipse cx="642.0" cy="503.0" rx="9.5" ry="8.0" transform="rotate(-15 642.0 503.0)" fill="#1c1c1c" stroke="#1a1a1a" stroke-width="0.4" />
<polygon points="644.0,440.0 652.0,442.0 652.0,515.0 644.0,513.0" fill="#1c1c1c" stroke="#1a1a1a" stroke-width="0.4" stroke-linejoin="round" />
<polygon points="660.0,442.0 684.0,446.0 687.0,548.0 668.0,545.0 655.0,525.0 655.0,450.0" fill="#1c1c1c" stroke="#1a1a1a" stroke-width="0.4" stroke-linejoin="round" />
<polygon points="648.5,446.0 662.5,442.5 662.5,503.0 648.5,506.0" fill="#5a5ac0" stroke="#20204a" stroke-width="0.5" stroke-linejoin="round" />
<polygon points="648.5,446.0 653.0,445.0 653.0,505.0 648.5,506.0" fill="#7070d0" stroke="none" stroke-width="0.8" stroke-linejoin="round" />
<ellipse cx="666.0" cy="452.0" rx="8.0" ry="9.0" transform="rotate(0 666.0 452.0)" fill="#1a1a1a" stroke="#1a1a1a" stroke-width="0.4" />
<ellipse cx="664.0" cy="476.0" rx="8.0" ry="9.0" transform="rotate(0 664.0 476.0)" fill="#1a1a1a" stroke="#1a1a1a" stroke-width="0.4" />
<ellipse cx="662.0" cy="512.0" rx="8.0" ry="9.0" transform="rotate(0 662.0 512.0)" fill="#1a1a1a" stroke="#1a1a1a" stroke-width="0.4" />
<polygon points="683.6,470.8 697.6,468.8 701.6,471.8 701.6,481.8 688.6,484.8 683.6,481.8" fill="#232323" stroke="#1a1a1a" stroke-width="0.4" stroke-linejoin="round" />
<ellipse cx="700.6" cy="476.8" rx="1.8" ry="7.0" transform="rotate(0 700.6 476.8)" fill="none" stroke="#1f9f9f" stroke-width="1.2" />
<ellipse cx="691.6" cy="476.8" rx="7.0" ry="7.5" transform="rotate(0 691.6 476.8)" fill="#2a2a2a" stroke="#1a1a1a" stroke-width="0.4" />
<polygon points="682.7,498.8 696.7,496.8 700.7,499.8 700.7,509.8 687.7,512.8 682.7,509.8" fill="#232323" stroke="#1a1a1a" stroke-width="0.4" stroke-linejoin="round" />
<ellipse cx="699.7" cy="504.8" rx="1.8" ry="7.0" transform="rotate(0 699.7 504.8)" fill="none" stroke="#1f9f9f" stroke-width="1.2" />
<ellipse cx="690.7" cy="504.8" rx="7.0" ry="7.5" transform="rotate(0 690.7 504.8)" fill="#2a2a2a" stroke="#1a1a1a" stroke-width="0.4" />
<polygon points="681.8,525.0 695.8,523.0 699.8,526.0 699.8,536.0 686.8,539.0 681.8,536.0" fill="#232323" stroke="#1a1a1a" stroke-width="0.4" stroke-linejoin="round" />
<ellipse cx="698.8" cy="531.0" rx="1.8" ry="7.0" transform="rotate(0 698.8 531.0)" fill="none" stroke="#1f9f9f" stroke-width="1.2" />
<ellipse cx="689.8" cy="531.0" rx="7.0" ry="7.5" transform="rotate(0 689.8 531.0)" fill="#2a2a2a" stroke="#1a1a1a" stroke-width="0.4" />
<path d="M682.2,464.1 A10,10.5 0 1 0 682.2,483.9 L682.9,480.6 A6,7 0 1 1 682.9,467.4 Z" fill="#d00000" stroke="#2a0000" stroke-width="0.5"/>
<polygon points="673.8,471.5 683.8,468.5 685.8,475.5 675.8,478.5" fill="#e0d020" stroke="#605800" stroke-width="0.4" stroke-linejoin="round" />
<path d="M680.4,492.1 A10,10.5 0 1 0 680.4,511.9 L681.1,508.6 A6,7 0 1 1 681.1,495.4 Z" fill="#d00000" stroke="#2a0000" stroke-width="0.5"/>
<polygon points="672.0,499.5 682.0,496.5 684.0,503.5 674.0,506.5" fill="#e0d020" stroke="#605800" stroke-width="0.4" stroke-linejoin="round" />
<path d="M679.6,518.4 A10,10.5 0 1 0 679.6,538.2 L680.3,534.9 A6,7 0 1 1 680.3,521.7 Z" fill="#d00000" stroke="#2a0000" stroke-width="0.5"/>
<polygon points="671.2,525.8 681.2,522.8 683.2,529.8 673.2,532.8" fill="#e0d020" stroke="#605800" stroke-width="0.4" stroke-linejoin="round" />
<path d="M632.4,462 C648.4,459 652.4,478 640.4,483 L638.4,480 C646.4,474 642.4,464 632.4,465 Z" fill="#b00000" stroke="#400" stroke-width="0.5"/>
<path d="M633.3,488.3 C649.3,485.3 653.3,504.3 641.3,509.3 L639.3,506.3 C647.3,500.3 643.3,490.3 633.3,491.3 Z" fill="#b00000" stroke="#400" stroke-width="0.5"/>
<polygon points="643.8,437.0 626.8,444.0 629.2,450.0 646.2,443.0" fill="#e0d428" stroke="#6b6000" stroke-width="0.5" stroke-linejoin="round" />
<line x1="639.5" y1="438.8" x2="640.1" y2="445.5" stroke="#8a7a00" stroke-width="0.6"/>
<line x1="635.3" y1="440.5" x2="635.9" y2="447.2" stroke="#8a7a00" stroke-width="0.6"/>
<line x1="631.0" y1="442.3" x2="631.6" y2="449.0" stroke="#8a7a00" stroke-width="0.6"/>
<polygon points="638.7,461.1 625.7,467.1 628.3,472.9 641.3,466.9" fill="#e0d428" stroke="#6b6000" stroke-width="0.5" stroke-linejoin="round" />
<line x1="635.4" y1="462.6" x2="636.3" y2="469.2" stroke="#8a7a00" stroke-width="0.6"/>
<line x1="632.2" y1="464.1" x2="633.0" y2="470.7" stroke="#8a7a00" stroke-width="0.6"/>
<line x1="628.9" y1="465.6" x2="629.8" y2="472.2" stroke="#8a7a00" stroke-width="0.6"/>
<polygon points="639.8,482.0 624.8,488.0 627.2,494.0 642.2,488.0" fill="#e0d428" stroke="#6b6000" stroke-width="0.5" stroke-linejoin="round" />
<line x1="636.1" y1="483.5" x2="636.6" y2="490.2" stroke="#8a7a00" stroke-width="0.6"/>
<line x1="632.3" y1="485.0" x2="632.8" y2="491.7" stroke="#8a7a00" stroke-width="0.6"/>
<line x1="628.6" y1="486.5" x2="629.1" y2="493.2" stroke="#8a7a00" stroke-width="0.6"/>
<polygon points="637.6,502.1 623.6,509.1 626.4,514.9 640.4,507.9" fill="#e0d428" stroke="#6b6000" stroke-width="0.5" stroke-linejoin="round" />
<line x1="634.1" y1="503.9" x2="635.1" y2="510.5" stroke="#8a7a00" stroke-width="0.6"/>
<line x1="630.6" y1="505.6" x2="631.6" y2="512.3" stroke="#8a7a00" stroke-width="0.6"/>
<line x1="627.1" y1="507.4" x2="628.1" y2="514.0" stroke="#8a7a00" stroke-width="0.6"/>
<polygon points="666.3,451.9 648.3,461.9 651.7,468.1 669.7,458.1" fill="#e0d428" stroke="#6b6000" stroke-width="0.5" stroke-linejoin="round" />
<line x1="661.8" y1="454.4" x2="663.5" y2="461.6" stroke="#8a7a00" stroke-width="0.6"/>
<line x1="657.3" y1="456.9" x2="659.0" y2="464.1" stroke="#8a7a00" stroke-width="0.6"/>
<line x1="652.8" y1="459.4" x2="654.5" y2="466.6" stroke="#8a7a00" stroke-width="0.6"/>
<polygon points="666.3,477.8 647.3,487.8 650.7,494.2 669.7,484.2" fill="#e0d428" stroke="#6b6000" stroke-width="0.5" stroke-linejoin="round" />
<line x1="661.6" y1="480.3" x2="663.2" y2="487.6" stroke="#8a7a00" stroke-width="0.6"/>
<line x1="656.8" y1="482.8" x2="658.4" y2="490.1" stroke="#8a7a00" stroke-width="0.6"/>
<line x1="652.1" y1="485.3" x2="653.7" y2="492.6" stroke="#8a7a00" stroke-width="0.6"/>
<polygon points="662.2,505.9 645.2,515.9 648.8,522.1 665.8,512.1" fill="#e0d428" stroke="#6b6000" stroke-width="0.5" stroke-linejoin="round" />
<line x1="657.9" y1="508.4" x2="659.9" y2="515.6" stroke="#8a7a00" stroke-width="0.6"/>
<line x1="653.7" y1="510.9" x2="655.6" y2="518.1" stroke="#8a7a00" stroke-width="0.6"/>
<line x1="649.4" y1="513.4" x2="651.4" y2="520.6" stroke="#8a7a00" stroke-width="0.6"/>
<path d="M628,520 C636,513 650,520 645,533 C643,537 640,538 638,538 L637,535 C642,533 644,524 636,520 C633,519 630,520 628,521 Z" fill="#a00000" stroke="#300" stroke-width="0.5"/>
<polygon points="144.4,72.0 161.0,65.0 161.0,73.0 226.7,95.7 226.7,89.6 242.5,108.8 225.8,117.6 225.8,109.7 160.7,86.9 159.3,93.1" fill="#7f0000" stroke="#3a0000" stroke-width="0.5" stroke-linejoin="round"/>
<polygon points="196.4,37.4 208.7,59.8 202.2,58.0 199.6,131.6 204.8,131.6 191.1,144.7 178.9,122.8 185.2,122.8 188.2,51.9 182.4,50.1" fill="#7f0000" stroke="#3a0000" stroke-width="0.5" stroke-linejoin="round"/>
<line x1="187.5" y1="83" x2="200.8" y2="88" stroke="#3a0000" stroke-width="0.5"/>
<polygon points="578.0,182.5 584.9,184.6 631.6,157.0 625.3,153.8 649.7,152.2 651.8,163.9 644.4,163.9 598.7,189.4 604.5,192.6 579.6,194.7" fill="#7f0000" stroke="#3a0000" stroke-width="0.5" stroke-linejoin="round"/>
<polygon points="221.9,408.6 221.1,398.1 226.3,399.6 273.2,369.9 268.7,369.1 293.3,366.9 294.0,378.8 289.6,377.3 241.2,405.6 246.4,407.8" fill="#7f0000" stroke="#3a0000" stroke-width="0.5" stroke-linejoin="round"/>
<polygon points="208.5,369.1 233.0,369.9 227.8,372.6 296.3,399.6 299.2,395.9 306.7,407.1 281.4,407.1 285.8,404.1 219.6,378.8 215.2,380.3" fill="#7f0000" stroke="#3a0000" stroke-width="0.5" stroke-linejoin="round"/>
<polygon points="813.2,476.8 825.5,499.2 817.9,497.3 816.0,567.5 821.7,572.3 807.5,584.2 795.1,561.8 804.6,564.7 805.6,491.2 799.9,489.3" fill="#7f0000" stroke="#3a0000" stroke-width="0.5" stroke-linejoin="round"/>
<defs><linearGradient id="rg1" x1="0" y1="0" x2="1" y2="0"><stop offset="0" stop-color="#a00000"/><stop offset="0.7" stop-color="#8a0000"/><stop offset="1" stop-color="#3a0000"/></linearGradient><linearGradient id="rg2" x1="0" y1="0" x2="1" y2="0"><stop offset="0" stop-color="#2a0000"/><stop offset="0.35" stop-color="#8a0000"/><stop offset="1" stop-color="#a00000"/></linearGradient></defs>
<path d="M473.4,345.1 A14.5,17.5 0 1 1 473.4,367.5 L474.5,363.2 A10.5,13.5 0 1 0 474.5,345.8 Z" fill="url(#rg1)" stroke="#2a0000" stroke-width="0.5"/>
<polygon points="466.5,351 473.5,343.5 476,350" fill="#2a0000"/>
<path d="M458.8,366.5 A16,17 0 1 0 456.0,392.9 L455.6,389.4 A10.5,13.5 0 1 1 457.4,368.5 Z" fill="url(#rg2)" stroke="#2a0000" stroke-width="0.5"/>
<polygon points="449,374 464,365 462,382.5" fill="#8a0000" stroke="#2a0000" stroke-width="0.5"/>
<text class="lb" x="14.8" y="218.1" xml:space="preserve" style="letter-spacing:0.15px">Cross live tool</text>
<text class="lb" x="30.5" y="234.6" xml:space="preserve">5</text>
<path d="M40.4,224.89999999999998 L49.8,233.7 M49.8,224.89999999999998 L40.4,233.7" stroke="#111" stroke-width="1" fill="none"/>
<text class="lb" x="52.6" y="234.6" xml:space="preserve">ER16</text>
<text class="lb" x="14.9" y="294.9" xml:space="preserve" style="letter-spacing:0.33px">End face tool</text>
<text class="lb" x="19.1" y="311.4" xml:space="preserve">5</text>
<path d="M29.0,301.7 L38.4,310.5 M38.4,301.7 L29.0,310.5" stroke="#111" stroke-width="1" fill="none"/>
<text class="lb" x="41.2" y="311.4" xml:space="preserve">ER16</text>
<text class="lb" x="820.3" y="72.8" xml:space="preserve" style="letter-spacing:0.33px">Turning tool</text>
<text class="lb" x="831.5" y="90.0" xml:space="preserve">6</text>
<path d="M841.9,80.3 L851.1,89.1 M851.1,80.3 L841.9,89.1" stroke="#111" stroke-width="1" fill="none"/>
<rect x="855.6" y="80.6" width="9.000000000000046" height="8.8" stroke="#111" stroke-width="1.2" fill="none"/>
<text class="lb" x="867.2" y="90.0" xml:space="preserve">12</text>
<text class="bd" x="749.0" y="126.1" xml:space="preserve">Main spindle</text>
<text class="bd" x="280.8" y="531.3" xml:space="preserve">Sub spindle</text>
<text class="lb" x="806.6" y="357.4" xml:space="preserve">Back end face</text>
<text class="lb" x="817.8" y="374.2" xml:space="preserve">turning tool</text>
<text class="lb" x="827.7" y="390.1" xml:space="preserve">4</text>
<path d="M838.1,380.40000000000003 L847.3,389.20000000000005 M847.3,380.40000000000003 L838.1,389.20000000000005" stroke="#111" stroke-width="1" fill="none"/>
<rect x="851.8000000000001" y="380.70000000000005" width="8.999999999999932" height="8.8" stroke="#111" stroke-width="1.2" fill="none"/>
<text class="lb" x="863.4" y="390.1" xml:space="preserve">12</text>
<text class="lb" x="846.8" y="467.1" xml:space="preserve">Back end face</text>
<text class="lb" x="850.1" y="483.5" xml:space="preserve">cross live tool</text>
<text class="lb" x="863.7" y="500.2" xml:space="preserve">3</text>
<path d="M873.6,490.5 L883,499.3 M883,490.5 L873.6,499.3" stroke="#111" stroke-width="1" fill="none"/>
<text class="lb" x="885.8" y="500.2" xml:space="preserve">ER16</text>
<text class="lb" x="799.7" y="617.7" xml:space="preserve">Back end face tool</text>
<text class="lb" x="810.1" y="633.2" xml:space="preserve">Fixed:4</text>
<path d="M857.9,623.5000000000001 L866.8,632.3000000000001 M866.8,623.5000000000001 L857.9,632.3000000000001" stroke="#111" stroke-width="1" fill="none"/>
<text class="lb" x="869.6" y="633.2" xml:space="preserve">ER16</text>
<text class="lb" x="810.5" y="650.0" xml:space="preserve">Live:</text>
<text class="lb" x="847.1" y="650.0" xml:space="preserve">3</text>
<path d="M857.4,640.3000000000001 L866.8,649.1 M866.8,640.3000000000001 L857.4,649.1" stroke="#111" stroke-width="1" fill="none"/>
<text class="lb" x="869.6" y="650.0" xml:space="preserve">ER16</text>
<text class="ax" transform="translate(194.95,29.90) scale(1.0,1)" x="0" y="0">X</text>
<polygon points="214.3,14.8 217.1,14.8 217.1,29.9 214.0,29.9 214.0,19.6 210.3,21.8 210.3,19.2" fill="#ff0000"/>
<text class="ax" transform="translate(115.60,77.00) scale(1.0,1)" x="0" y="0">Y</text>
<polygon points="135.2,61.7 138.0,61.7 138.0,77.0 134.9,77.0 134.9,66.5 131.2,68.7 131.2,66.1" fill="#ff0000"/>
<text class="ax" transform="translate(576.97,165.80) scale(0.93,1)" x="0" y="0">Z</text>
<polygon points="594.3,151.0 597.1,151.0 597.1,165.8 594.0,165.8 594.0,155.8 590.3,158.0 590.3,155.4" fill="#ff0000"/>
<text class="ax" transform="translate(492.91,389.00) scale(0.89,1)" x="0" y="0">C</text>
<polygon points="512.3,373.9 515.1,373.9 515.1,389.0 512.0,389.0 512.0,378.7 508.3,380.9 508.3,378.3" fill="#ff0000"/>
<text class="ax" transform="translate(179.00,377.90) scale(1.0,1)" x="0" y="0">X</text>
<text class="ax" transform="translate(192.20,377.90) scale(1.0,1)" x="0" y="0">2</text>
<text class="ax" transform="translate(202.97,431.00) scale(0.93,1)" x="0" y="0">Z</text>
<text class="ax" transform="translate(215.00,431.00) scale(1.0,1)" x="0" y="0">2</text>
<text class="ax" transform="translate(448.61,415.00) scale(0.89,1)" x="0" y="0">C</text>
<text class="ax" transform="translate(462.20,415.00) scale(1.0,1)" x="0" y="0">2</text>
<text class="ax" transform="translate(766.30,532.00) scale(1.0,1)" x="0" y="0">Y</text>
<text class="ax" transform="translate(779.90,532.00) scale(1.0,1)" x="0" y="0">2</text>
<circle cx="113.5" cy="221.3" r="4.3" fill="#f00"/>
<polyline class="ld" points="113.5,221.3 298.0,219.7"/>
<polygon points="304.1,219.6 295.9,223.9 295.9,215.3" fill="#f00"/>
<circle cx="113.5" cy="298.5" r="4.3" fill="#f00"/>
<polyline class="ld" points="113.5,298.5 203.0,298.4"/>
<polygon points="209.5,298.4 201.3,302.7 201.3,294.1" fill="#f00"/>
<circle cx="819" cy="82" r="4.3" fill="#f00"/>
<polyline class="ld" points="819.0,82.0 478.3,85.0 478.3,245.0"/>
<polygon points="478.3,251.0 474.0,242.8 482.6,242.8" fill="#f00"/>
<circle cx="809.9" cy="369.8" r="4.3" fill="#f00"/>
<polyline class="ld" points="809.9,369.8 640.0,369.8"/>
<polygon points="634.0,369.8 642.2,365.5 642.2,374.1" fill="#f00"/>
<circle cx="844.6" cy="481.1" r="4.3" fill="#f00"/>
<polyline class="ld" points="844.6,481.1 714.0,481.9"/>
<polygon points="708.0,481.9 716.2,477.6 716.2,486.2" fill="#f00"/>
<circle cx="794.7" cy="631" r="4.3" fill="#f00"/>
<polyline class="ld" points="794.7,631.0 636.4,631.0 636.4,536.0"/>
<polygon points="636.4,530.0 640.7,538.2 632.1,538.2" fill="#f00"/>
</svg>
</body></html>
